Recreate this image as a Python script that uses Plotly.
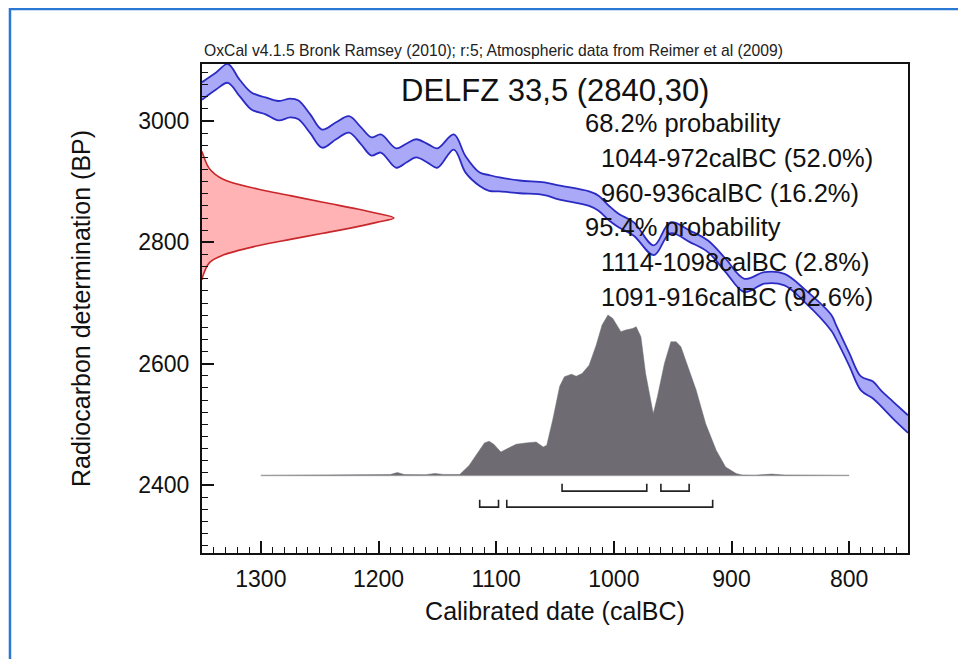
import plotly.graph_objects as go

# ---- calibration curve (IntCal09 band) ----
curve_year = [1350, 1338, 1328, 1318, 1308, 1296, 1285, 1275, 1268, 1258, 1248, 1236,
              1225, 1215, 1206, 1198, 1185, 1176, 1168, 1158, 1150, 1136, 1126, 1114,
              1106, 1097, 1080, 1059, 1047, 1021, 1013, 1004, 996, 983, 966, 952, 935,
              920, 905, 889, 872, 855, 838, 815, 811, 800, 790, 780, 773, 763, 750]
curve_upper = [3064, 3080, 3094, 3068, 3047, 3039, 3033, 3037, 3034, 3011, 2986, 2998,
               3008, 2990, 2973, 2978, 2955, 2963, 2970, 2962, 2955, 2978, 2942, 2915,
               2911, 2907, 2902, 2899, 2894, 2884, 2877, 2860, 2847, 2833, 2795, 2833, 2819,
               2803, 2773, 2740, 2751, 2748, 2723, 2680, 2663, 2618, 2579, 2571, 2556, 2538, 2515]
curve_lower = [3035, 3052, 3063, 3041, 3019, 3011, 3001, 3006, 3003, 2980, 2956, 2970,
               2981, 2962, 2943, 2948, 2923, 2932, 2940, 2931, 2923, 2953, 2915, 2893,
               2885, 2884, 2881, 2878, 2871, 2860, 2852, 2836, 2825, 2811, 2779, 2815, 2800,
               2784, 2751, 2718, 2732, 2729, 2702, 2654, 2640, 2597, 2556, 2543, 2530, 2510, 2486]

# ---- radiocarbon measurement 2840 +/- 30 BP (relative density) ----
c14_bp = [2950, 2945, 2921, 2904, 2888, 2877, 2866, 2855, 2848, 2840, 2833, 2826, 2815,
          2805, 2794, 2779, 2767, 2745, 2738]
c14_density = [0.0, 0.005, 0.04, 0.11, 0.29, 0.46, 0.63, 0.81, 0.91, 1.0, 0.91, 0.81, 0.63,
               0.46, 0.285, 0.11, 0.04, 0.005, 0.0]

# ---- calibrated probability distribution (relative) ----
post_year = [1300, 1200, 1190, 1184, 1178, 1160, 1152, 1145, 1138, 1131, 1123, 1114, 1110,
             1106, 1102, 1096, 1090, 1083, 1075, 1066, 1060, 1057, 1052, 1046, 1042, 1036,
             1032, 1027, 1021, 1015, 1010, 1005, 1001, 994, 990, 984, 981, 977, 973, 966.5,
             963, 957, 951.5, 947, 943, 939, 930, 922, 913, 905, 896, 891, 880, 866, 855, 800]
post_prob = [0.0, 0.002, 0.005, 0.018, 0.005, 0.004, 0.012, 0.006, 0.004, 0.005, 0.062, 0.156,
             0.202, 0.213, 0.194, 0.146, 0.166, 0.194, 0.202, 0.208, 0.177, 0.188, 0.344, 0.556,
             0.615, 0.631, 0.618, 0.635, 0.687, 0.812, 0.937, 1.0, 0.979, 0.896, 0.906, 0.916,
             0.927, 0.864, 0.635, 0.385, 0.489, 0.698, 0.833, 0.833, 0.802, 0.719, 0.531,
             0.323, 0.156, 0.052, 0.011, 0.002, 0.001, 0.008, 0.002, 0.0]
post_extent = [1300, 800]

# ---- highest probability ranges ----
range68 = [(1044, 972), (960, 936)]
range95 = [(1114, 1098), (1091, 916)]

title_text = "DELFZ 33,5 (2840,30)"
subtitle = "OxCal v4.1.5 Bronk Ramsey (2010); r:5; Atmospheric data from Reimer et al (2009)"
summary_lines = ["68.2% probability", "1044-972calBC (52.0%)", "960-936calBC (16.2%)",
                 "95.4% probability", "1114-1098calBC (2.8%)", "1091-916calBC (92.6%)"]
summary_indent = [False, True, True, False, True, True]

FONT = "Liberation Sans, Arial, sans-serif"

fig = go.Figure()

# calibration band
fig.add_trace(go.Scatter(x=curve_year, y=curve_lower, mode="lines",
                         line=dict(color="#2b2bc4", width=1.8, shape="spline", smoothing=1.0),
                         hoverinfo="skip", showlegend=False))
fig.add_trace(go.Scatter(x=curve_year, y=curve_upper, mode="lines", fill="tonexty",
                         fillcolor="#a9a9f7",
                         line=dict(color="#2b2bc4", width=1.8, shape="spline", smoothing=1.0),
                         hoverinfo="skip", showlegend=False))

# radiocarbon measurement (on the y axis)
fig.add_trace(go.Scatter(x=c14_density, y=c14_bp, xaxis="x2", yaxis="y", mode="lines",
                         line=dict(color="#c8272b", width=1.6, shape="spline"),
                         fill="tozerox", fillcolor="#ffb3b4", hoverinfo="skip",
                         showlegend=False))

# baseline of the calibrated distribution
fig.add_trace(go.Scatter(x=post_extent, y=[0, 0], xaxis="x", yaxis="y2", mode="lines",
                         line=dict(color="#c4c4c4", width=1.5), hoverinfo="skip",
                         showlegend=False))
# calibrated distribution
fig.add_trace(go.Scatter(x=post_year, y=post_prob, xaxis="x", yaxis="y2", mode="lines",
                         line=dict(color="#6e6c72", width=0.5), fill="tozeroy",
                         fillcolor="#6e6c72", hoverinfo="skip", showlegend=False))

# range brackets
def brackets(ranges, top, bot):
    xs, ys = [], []
    for a, b in ranges:
        xs += [a, a, b, b, None]
        ys += [top, bot, bot, top, None]
    return xs, ys

for rng, top, bot in [(range68, -0.052, -0.098), (range95, -0.152, -0.198)]:
    bx, by = brackets(rng, top, bot)
    fig.add_trace(go.Scatter(x=bx, y=by, xaxis="x", yaxis="y2", mode="lines",
                             line=dict(color="#222222", width=1.6), hoverinfo="skip",
                             showlegend=False))

annotations = [
    dict(text=subtitle, x=0, y=1, xref="paper", yref="paper", xanchor="left",
         yanchor="bottom", yshift=3, showarrow=False,
         font=dict(family=FONT, size=15.7, color="#222")),
    dict(text=title_text, x=0.5, y=0.9468, xref="paper", yref="paper", xanchor="center",
         yanchor="middle", showarrow=False, font=dict(family=FONT, size=31, color="#111")),
]
y0 = 0.8793
for i, (line, ind) in enumerate(zip(summary_lines, summary_indent)):
    annotations.append(dict(text=line, x=0.5623 if ind else 0.5397, y=y0 - i * 0.0712,
                            xref="paper", yref="paper", xanchor="left", yanchor="middle",
                            showarrow=False, font=dict(family=FONT, size=25.5, color="#111")))

# the page body adds an 8 px offset; size and margins compensate for it
fig.update_layout(
    width=958, height=651,
    margin=dict(l=194, r=58, t=56, b=106),
    paper_bgcolor="white", plot_bgcolor="white",
    font=dict(family=FONT, color="#111"),
    showlegend=False,
    annotations=annotations,
    xaxis=dict(range=[1350, 750], dtick=100, tick0=0, ticks="inside", ticklen=12,
               tickwidth=1.6, tickcolor="#111", showline=True, linewidth=2, linecolor="#111",
               mirror=True, showgrid=False, zeroline=False,
               tickfont=dict(family=FONT, size=23, color="#111"), ticklabelstandoff=4,
               minor=dict(dtick=10, ticks="inside", ticklen=6, tickwidth=1.2,
                          tickcolor="#111", showgrid=False),
               title=dict(text="Calibrated date (calBC)", standoff=12,
                          font=dict(family=FONT, size=25, color="#111"))),
    yaxis=dict(range=[2288, 3094], dtick=200, tick0=0, ticks="inside", ticklen=12,
               tickwidth=1.6, tickcolor="#111", showline=True, linewidth=2, linecolor="#111",
               mirror=True, showgrid=False, zeroline=False,
               tickfont=dict(family=FONT, size=23, color="#111"), ticklabelstandoff=6,
               minor=dict(dtick=20, ticks="inside", ticklen=6, tickwidth=1.2,
                          tickcolor="#111", showgrid=False),
               title=dict(text="Radiocarbon determination (BP)", standoff=40,
                          font=dict(family=FONT, size=25, color="#111"))),
    xaxis2=dict(overlaying="x", range=[0, 3.677], visible=False, showgrid=False),
    yaxis2=dict(overlaying="y", range=[-0.484, 2.565], visible=False, showgrid=False),
    shapes=[dict(type="rect", xref="paper", yref="paper", x0=-0.272, x1=1.3,
                 y0=-0.4, y1=1.1125, line=dict(color="#2b78d4", width=2.5),
                 fillcolor="rgba(0,0,0,0)", layer="below")],
)

fig.write_html("out.html")
